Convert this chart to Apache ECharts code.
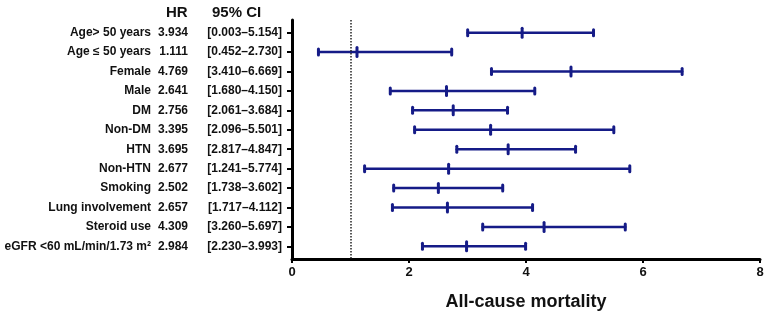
<!DOCTYPE html>
<html lang="en">
  <head>
    <meta charset="UTF-8" />
    <title>All-cause mortality</title>
    <style>
      html, body { margin: 0; padding: 0; background: #fff; }
      #chart { width: 768px; height: 313px; }
    </style>
    <script src="https://cdn.jsdelivr.net/npm/echarts@6/dist/echarts.min.js"></script>
  </head>
  <body>
    <div id="chart"></div>
    <script>
      const labels = [
        "Age> 50 years", "Age \u2264 50 years", "Female", "Male", "DM", "Non-DM",
        "HTN", "Non-HTN", "Smoking", "Lung involvement", "Steroid use",
        "eGFR <60 mL/min/1.73 m\u00b2"
      ];
      const hrText = ["3.934", "1.111", "4.769", "2.641", "2.756", "3.395",
        "3.695", "2.677", "2.502", "2.657", "4.309", "2.984"];
      const ciText = ["[0.003\u20135.154]", "[0.452\u20132.730]", "[3.410\u20136.669]",
        "[1.680\u20134.150]", "[2.061\u20133.684]", "[2.096\u20135.501]",
        "[2.817\u20134.847]", "[1.241\u20135.774]", "[1.738\u20133.602]",
        "[1.717\u20134.112]", "[3.260\u20135.697]", "[2.230\u20133.993]"];
      // plotted values (first row's lower whisker is drawn near 3.0 in the figure)
      const hr = [3.934, 1.111, 4.769, 2.641, 2.756, 3.395, 3.695, 2.677, 2.502, 2.657, 4.309, 2.984];
      const lo = [3.003, 0.452, 3.41, 1.68, 2.061, 2.096, 2.817, 1.241, 1.738, 1.717, 3.26, 2.23];
      const hi = [5.154, 2.73, 6.669, 4.15, 3.684, 5.501, 4.847, 5.774, 3.602, 4.112, 5.697, 3.993];
      const xTicks = [0, 2, 4, 6, 8];
      const refLine = 1;

      const rows = labels.map((_, i) => i);
      const barColor = "#151b87";
      const font = "'Liberation Sans', Arial, sans-serif";

      function rowAxis(offset, margin, texts, showLine) {
        return {
          type: "value",
          position: "left",
          inverse: true,
          min: -0.65,
          max: 11.65,
          offset: offset,
          splitLine: { show: false },
          axisLine: { show: showLine, onZero: false, lineStyle: { color: "#000", width: 3 } },
          axisTick: { show: showLine, customValues: rows, length: 5, lineStyle: { color: "#000", width: 2 } },
          axisLabel: {
            customValues: rows,
            margin: margin,
            formatter: (v) => texts[Math.round(v)],
            color: "#111",
            fontWeight: "bold",
            fontSize: 12,
            fontFamily: font,
          },
        };
      }

      const chart = echarts.init(document.getElementById("chart"), null, { renderer: "canvas" });
      const option = {
        animation: false,
        grid: { left: 292, right: 8, top: 20, bottom: 54, containLabel: false, outerBoundsMode: "none" },
        xAxis: {
          type: "value",
          min: 0,
          max: 8,
          interval: 2,
          name: "All-cause mortality",
          nameLocation: "middle",
          nameGap: 34,
          nameTextStyle: { fontWeight: "bold", fontSize: 18, color: "#111", fontFamily: font },
          splitLine: { show: false },
          axisLine: { onZero: false, lineStyle: { color: "#000", width: 3 } },
          axisTick: { length: 4, lineStyle: { color: "#000", width: 2 } },
          axisLabel: {
            margin: 7,
            color: "#111",
            fontWeight: "bold",
            fontSize: 13,
            fontFamily: font,
            customValues: xTicks,
          },
        },
        yAxis: [
          rowAxis(0, 10, ciText, true),
          rowAxis(100, 4, hrText, false),
          rowAxis(137, 4, labels, false),
        ],
        graphic: [
          { type: "text", left: 166, top: 5, style: { text: "HR", font: "bold 15px " + font, fill: "#111" } },
          { type: "text", left: 212, top: 5, style: { text: "95% CI", font: "bold 15px " + font, fill: "#111" } },
        ],
        series: [
          {
            type: "custom",
            yAxisIndex: 0,
            data: rows.map((i) => [lo[i], hi[i], hr[i], i]),
            encode: { x: [0, 1, 2], y: 3 },
            renderItem: function (params, api) {
              const y = api.value(3);
              const a = api.coord([api.value(0), y]);
              const b = api.coord([api.value(1), y]);
              const m = api.coord([api.value(2), y]);
              const st = { stroke: barColor, lineWidth: 2.5, lineCap: "round" };
              const cap = { stroke: barColor, lineWidth: 3, lineCap: "round" };
              return {
                type: "group",
                children: [
                  { type: "line", shape: { x1: a[0], y1: a[1], x2: b[0], y2: b[1] }, style: st },
                  { type: "line", shape: { x1: a[0], y1: a[1] - 3, x2: a[0], y2: a[1] + 3 }, style: cap },
                  { type: "line", shape: { x1: b[0], y1: b[1] - 3, x2: b[0], y2: b[1] + 3 }, style: cap },
                  { type: "line", shape: { x1: m[0], y1: m[1] - 4.5, x2: m[0], y2: m[1] + 4.5 }, style: cap },
                ],
              };
            },
            markLine: {
              silent: true,
              symbol: "none",
              label: { show: false },
              lineStyle: { color: "#222", type: [1.5, 1.5], width: 1.5 },
              data: [{ xAxis: refLine }],
            },
          },
        ],
      };
      chart.setOption(option);
    </script>
  </body>
</html>
